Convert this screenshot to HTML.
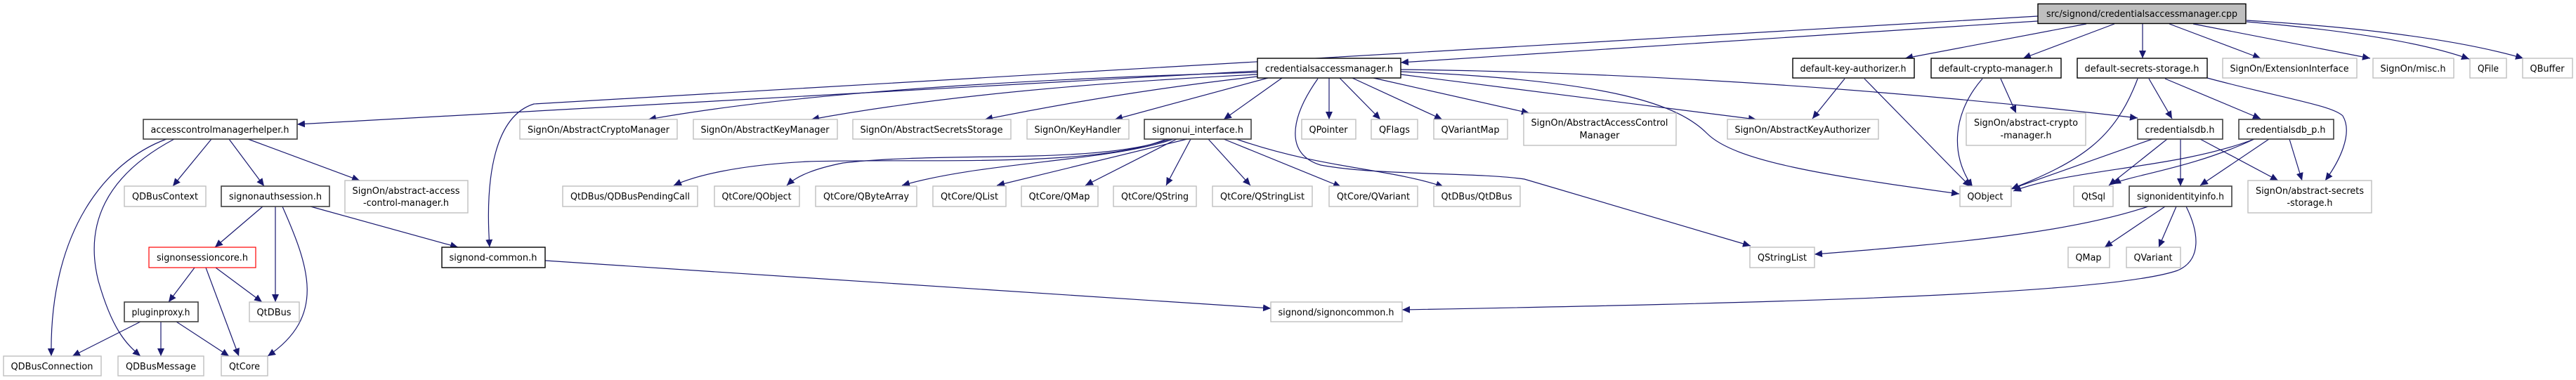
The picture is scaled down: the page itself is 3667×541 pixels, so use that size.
<!DOCTYPE html>
<html><head><meta charset="utf-8"><style>
html,body{margin:0;padding:0;background:#fff;}
svg{display:block;}
text{font-family:"DejaVu Sans","Liberation Sans",sans-serif;font-size:13px;fill:#000;}
.d{fill:#fff;stroke:#404040;stroke-width:1.6;}
.b{fill:#fff;stroke:#000;stroke-width:1.4;}
.g{fill:#fff;stroke:#bfbfbf;stroke-width:1.4;}
.r{fill:#fff;stroke:#ff0000;stroke-width:1.2;}
.e{fill:none;stroke:#191970;stroke-width:1.2;marker-end:url(#a);}
</style></head><body>
<svg width="3667" height="541" viewBox="0 0 3667 541" xmlns="http://www.w3.org/2000/svg">
<defs><marker id="a" markerUnits="userSpaceOnUse" markerWidth="12" markerHeight="10" refX="11" refY="5" orient="auto"><path d="M0,0 L11,5 L0,10 Z" fill="#191970"/></marker></defs>
<g>
<!-- cpp edges -->
<path class="e" d="M2901,30 L1994,89"/>
<path class="e" d="M2901,23 L760,148 C705,165 690,250 697,352"/>
<path class="e" d="M2970,34 L2712,83"/>
<path class="e" d="M3010,34 L2880,83"/>
<path class="e" d="M3050,34 L3050,83"/>
<path class="e" d="M3088,34 L3218,83"/>
<path class="e" d="M3122,34 L3374,83"/>
<path class="e" d="M3198,31 Q3420,50 3515,84"/>
<path class="e" d="M3198,29 Q3460,45 3592,83"/>
<!-- cam.h edges -->
<path class="e" d="M1790,101 L423,177"/>
<path class="e" d="M1790,103 Q1200,120 923,170"/>
<path class="e" d="M1790,106 Q1400,125 1155,170"/>
<path class="e" d="M1790,109 Q1600,130 1402,170"/>
<path class="e" d="M1805,111 L1587,170"/>
<path class="e" d="M1825,111 L1742,170"/>
<path class="e" d="M1876,112 C1835,170 1830,220 1880,235 C1960,250 2100,245 2170,255 L2492,350"/>
<path class="e" d="M1892,111 L1892,170"/>
<path class="e" d="M1907,111 L1965,170"/>
<path class="e" d="M1925,111 L2053,170"/>
<path class="e" d="M1955,111 L2177,161"/>
<path class="e" d="M1994,106 L2500,170"/>
<path class="e" d="M1994,99 Q2500,105 3043,168"/>
<path class="e" d="M1994,102 C2300,115 2390,150 2430,190 C2470,230 2600,250 2789,276"/>
<!-- signonui edges -->
<path class="e" d="M1660,198 C1560,240 1300,225 1150,230 C1050,235 990,250 959,264"/>
<path class="e" d="M1665,198 C1560,235 1350,215 1200,232 C1160,240 1135,250 1120,264"/>
<path class="e" d="M1670,198 C1580,230 1400,230 1284,264"/>
<path class="e" d="M1690,198 L1419,264"/>
<path class="e" d="M1675,198 L1545,264"/>
<path class="e" d="M1695,198 L1660,264"/>
<path class="e" d="M1720,198 L1780,264"/>
<path class="e" d="M1742,198 L1909,266"/>
<path class="e" d="M1760,198 C1880,240 1980,240 2055,266"/>
<!-- acmh edges -->
<path class="e" d="M237,198 C150,230 70,330 73,507"/>
<path class="e" d="M248,198 C150,250 120,320 140,400 C160,470 180,490 200,507"/>
<path class="e" d="M301,198 L246,265"/>
<path class="e" d="M326,198 L376,265"/>
<path class="e" d="M353,198 L512,257"/>
<!-- signonauthsession -->
<path class="e" d="M374,294 L306,352"/>
<path class="e" d="M392,294 L392,430"/>
<path class="e" d="M402,294 C440,380 465,450 381,507"/>
<path class="e" d="M442,294 L652,352"/>
<!-- signonsessioncore -->
<path class="e" d="M277,381 L240,430"/>
<path class="e" d="M293,381 L340,507"/>
<path class="e" d="M307,381 L373,430"/>
<!-- pluginproxy -->
<path class="e" d="M200,458 L103,507"/>
<path class="e" d="M229,458 L229,507"/>
<path class="e" d="M251,458 L326,507"/>
<!-- signond-common -->
<path class="e" d="M776,371 L1809,439"/>
<!-- dka -->
<path class="e" d="M2626,112 L2580,169"/>
<path class="e" d="M2654,112 L2805,266"/>
<!-- dcm -->
<path class="e" d="M2848,112 L2870,161"/>
<path class="e" d="M2822,112 C2780,160 2775,220 2808,266"/>
<!-- dss -->
<path class="e" d="M3043,112 C3010,200 2960,230 2863,269"/>
<path class="e" d="M3059,112 L3092,169"/>
<path class="e" d="M3082,112 L3218,169"/>
<path class="e" d="M3142,111 C3250,140 3320,150 3335,165 C3350,190 3330,230 3310,257"/>
<!-- credentialsdb.h -->
<path class="e" d="M3064,198 L2863,269"/>
<path class="e" d="M3085,198 L3002,264"/>
<path class="e" d="M3104,198 L3104,265"/>
<path class="e" d="M3132,198 L3243,257"/>
<!-- credentialsdb_p.h -->
<path class="e" d="M3209,198 C3100,240 2950,240 2866,272"/>
<path class="e" d="M3209,198 C3120,240 3030,250 3008,262"/>
<path class="e" d="M3230,198 L3132,264"/>
<path class="e" d="M3259,198 L3277,257"/>
<!-- signonidentityinfo -->
<path class="e" d="M3058,294 C2950,330 2800,345 2583,362"/>
<path class="e" d="M3082,294 L2996,352"/>
<path class="e" d="M3098,294 L3073,352"/>
<path class="e" d="M3112,294 C3130,330 3135,370 3100,385 C3000,420 2500,432 1996,441"/>
</g>
<g text-anchor="middle">
<rect x="2901" y="5.5" width="296" height="28" fill="#bfbfbf" stroke="#000" stroke-width="1.4"/><text x="3049" y="24" textLength="272" lengthAdjust="spacingAndGlyphs">src/signond/credentialsaccessmanager.cpp</text>
<rect class="b" x="1790" y="83" width="204" height="28"/><text x="1892" y="102" textLength="182" lengthAdjust="spacingAndGlyphs">credentialsaccessmanager.h</text>
<rect class="b" x="2552" y="83" width="173" height="28"/><text x="2638" y="102" textLength="151" lengthAdjust="spacingAndGlyphs">default-key-authorizer.h</text>
<rect class="b" x="2749" y="83" width="185" height="28"/><text x="2841" y="102" textLength="163" lengthAdjust="spacingAndGlyphs">default-crypto-manager.h</text>
<rect class="b" x="2957" y="83" width="185" height="28"/><text x="3049" y="102" textLength="163" lengthAdjust="spacingAndGlyphs">default-secrets-storage.h</text>
<rect class="g" x="3164" y="83" width="191" height="28"/><text x="3259" y="102" textLength="169" lengthAdjust="spacingAndGlyphs">SignOn/ExtensionInterface</text>
<rect class="g" x="3378" y="83" width="115" height="28"/><text x="3435" y="102" textLength="93" lengthAdjust="spacingAndGlyphs">SignOn/misc.h</text>
<rect class="g" x="3516" y="83" width="52" height="28"/><text x="3542" y="102" textLength="30" lengthAdjust="spacingAndGlyphs">QFile</text>
<rect class="g" x="3591" y="83" width="71" height="28"/><text x="3626" y="102" textLength="49" lengthAdjust="spacingAndGlyphs">QBuffer</text>

<rect class="d" x="204" y="170" width="219" height="28"/><text x="313" y="189" textLength="197" lengthAdjust="spacingAndGlyphs">accesscontrolmanagerhelper.h</text>
<rect class="g" x="740" y="170" width="224" height="28"/><text x="852" y="189" textLength="202" lengthAdjust="spacingAndGlyphs">SignOn/AbstractCryptoManager</text>
<rect class="g" x="987" y="170" width="205" height="28"/><text x="1089" y="189" textLength="183" lengthAdjust="spacingAndGlyphs">SignOn/AbstractKeyManager</text>
<rect class="g" x="1214" y="170" width="225" height="28"/><text x="1326" y="189" textLength="203" lengthAdjust="spacingAndGlyphs">SignOn/AbstractSecretsStorage</text>
<rect class="g" x="1462" y="170" width="145" height="28"/><text x="1534" y="189" textLength="123" lengthAdjust="spacingAndGlyphs">SignOn/KeyHandler</text>
<rect class="d" x="1629" y="170" width="152" height="28"/><text x="1705" y="189" textLength="130" lengthAdjust="spacingAndGlyphs">signonui_interface.h</text>
<rect class="g" x="1853" y="170" width="77" height="28"/><text x="1891" y="189" textLength="55" lengthAdjust="spacingAndGlyphs">QPointer</text>
<rect class="g" x="1952" y="170" width="66" height="28"/><text x="1985" y="189" textLength="44" lengthAdjust="spacingAndGlyphs">QFlags</text>
<rect class="g" x="2041" y="170" width="105" height="28"/><text x="2093" y="189" textLength="83" lengthAdjust="spacingAndGlyphs">QVariantMap</text>
<rect class="g" x="2169" y="161" width="217" height="46"/><text x="2277" y="179" textLength="195" lengthAdjust="spacingAndGlyphs">SignOn/AbstractAccessControl</text><text x="2277" y="197">Manager</text>
<rect class="g" x="2459" y="170" width="215" height="28"/><text x="2566" y="189" textLength="193" lengthAdjust="spacingAndGlyphs">SignOn/AbstractKeyAuthorizer</text>
<rect class="g" x="2799" y="161" width="170" height="46"/><text x="2884" y="179" textLength="148" lengthAdjust="spacingAndGlyphs">SignOn/abstract-crypto</text><text x="2884" y="197" textLength="73" lengthAdjust="spacingAndGlyphs">-manager.h</text>
<rect class="d" x="3043" y="170" width="121" height="28"/><text x="3103" y="189" textLength="99" lengthAdjust="spacingAndGlyphs">credentialsdb.h</text>
<rect class="d" x="3187" y="170" width="135" height="28"/><text x="3254" y="189" textLength="113" lengthAdjust="spacingAndGlyphs">credentialsdb_p.h</text>

<rect class="g" x="177" y="265" width="116" height="29"/><text x="235" y="284" textLength="94" lengthAdjust="spacingAndGlyphs">QDBusContext</text>
<rect class="d" x="315" y="265" width="154" height="29"/><text x="392" y="284" textLength="132" lengthAdjust="spacingAndGlyphs">signonauthsession.h</text>
<rect class="g" x="491" y="257" width="175" height="46"/><text x="578" y="276" textLength="153" lengthAdjust="spacingAndGlyphs">SignOn/abstract-access</text><text x="578" y="293" textLength="122" lengthAdjust="spacingAndGlyphs">-control-manager.h</text>
<rect class="g" x="801" y="265" width="192" height="29"/><text x="897" y="284" textLength="170" lengthAdjust="spacingAndGlyphs">QtDBus/QDBusPendingCall</text>
<rect class="g" x="1017" y="265" width="121" height="29"/><text x="1077" y="284" textLength="99" lengthAdjust="spacingAndGlyphs">QtCore/QObject</text>
<rect class="g" x="1161" y="265" width="144" height="29"/><text x="1233" y="284" textLength="122" lengthAdjust="spacingAndGlyphs">QtCore/QByteArray</text>
<rect class="g" x="1328" y="265" width="104" height="29"/><text x="1380" y="284" textLength="82" lengthAdjust="spacingAndGlyphs">QtCore/QList</text>
<rect class="g" x="1454" y="265" width="109" height="29"/><text x="1508" y="284" textLength="87" lengthAdjust="spacingAndGlyphs">QtCore/QMap</text>
<rect class="g" x="1585" y="265" width="118" height="29"/><text x="1644" y="284" textLength="96" lengthAdjust="spacingAndGlyphs">QtCore/QString</text>
<rect class="g" x="1726" y="265" width="142" height="29"/><text x="1797" y="284" textLength="120" lengthAdjust="spacingAndGlyphs">QtCore/QStringList</text>
<rect class="g" x="1892" y="265" width="126" height="29"/><text x="1955" y="284" textLength="104" lengthAdjust="spacingAndGlyphs">QtCore/QVariant</text>
<rect class="g" x="2041" y="265" width="123" height="29"/><text x="2102" y="284" textLength="101" lengthAdjust="spacingAndGlyphs">QtDBus/QtDBus</text>
<rect class="g" x="2790" y="265" width="73" height="29"/><text x="2826" y="284" textLength="51" lengthAdjust="spacingAndGlyphs">QObject</text>
<rect class="g" x="2952" y="265" width="56" height="29"/><text x="2980" y="284" textLength="34" lengthAdjust="spacingAndGlyphs">QtSql</text>
<rect class="d" x="3031" y="265" width="146" height="29"/><text x="3104" y="284" textLength="124" lengthAdjust="spacingAndGlyphs">signonidentityinfo.h</text>
<rect class="g" x="3200" y="257" width="176" height="46"/><text x="3288" y="276" textLength="154" lengthAdjust="spacingAndGlyphs">SignOn/abstract-secrets</text><text x="3288" y="293" textLength="65" lengthAdjust="spacingAndGlyphs">-storage.h</text>

<rect class="r" x="212" y="352" width="152" height="29"/><text x="288" y="371" textLength="130" lengthAdjust="spacingAndGlyphs">signonsessioncore.h</text>
<rect class="b" x="629" y="352" width="147" height="29"/><text x="702" y="371" textLength="125" lengthAdjust="spacingAndGlyphs">signond-common.h</text>
<rect class="g" x="2491" y="352" width="92" height="29"/><text x="2537" y="371" textLength="70" lengthAdjust="spacingAndGlyphs">QStringList</text>
<rect class="g" x="2944" y="352" width="59" height="29"/><text x="2973" y="371" textLength="37" lengthAdjust="spacingAndGlyphs">QMap</text>
<rect class="g" x="3027" y="352" width="77" height="29"/><text x="3065" y="371" textLength="55" lengthAdjust="spacingAndGlyphs">QVariant</text>

<rect class="d" x="177" y="430" width="105" height="28"/><text x="229" y="449" textLength="83" lengthAdjust="spacingAndGlyphs">pluginproxy.h</text>
<rect class="g" x="355" y="430" width="71" height="28"/><text x="390" y="449" textLength="49" lengthAdjust="spacingAndGlyphs">QtDBus</text>
<rect class="g" x="1809" y="430" width="187" height="28"/><text x="1902" y="449" textLength="165" lengthAdjust="spacingAndGlyphs">signond/signoncommon.h</text>

<rect class="g" x="5" y="507" width="139" height="28"/><text x="74" y="526" textLength="117" lengthAdjust="spacingAndGlyphs">QDBusConnection</text>
<rect class="g" x="168" y="507" width="122" height="28"/><text x="229" y="526" textLength="100" lengthAdjust="spacingAndGlyphs">QDBusMessage</text>
<rect class="g" x="315" y="507" width="66" height="28"/><text x="348" y="526" textLength="44" lengthAdjust="spacingAndGlyphs">QtCore</text>
</g>
</svg>
</body></html>
